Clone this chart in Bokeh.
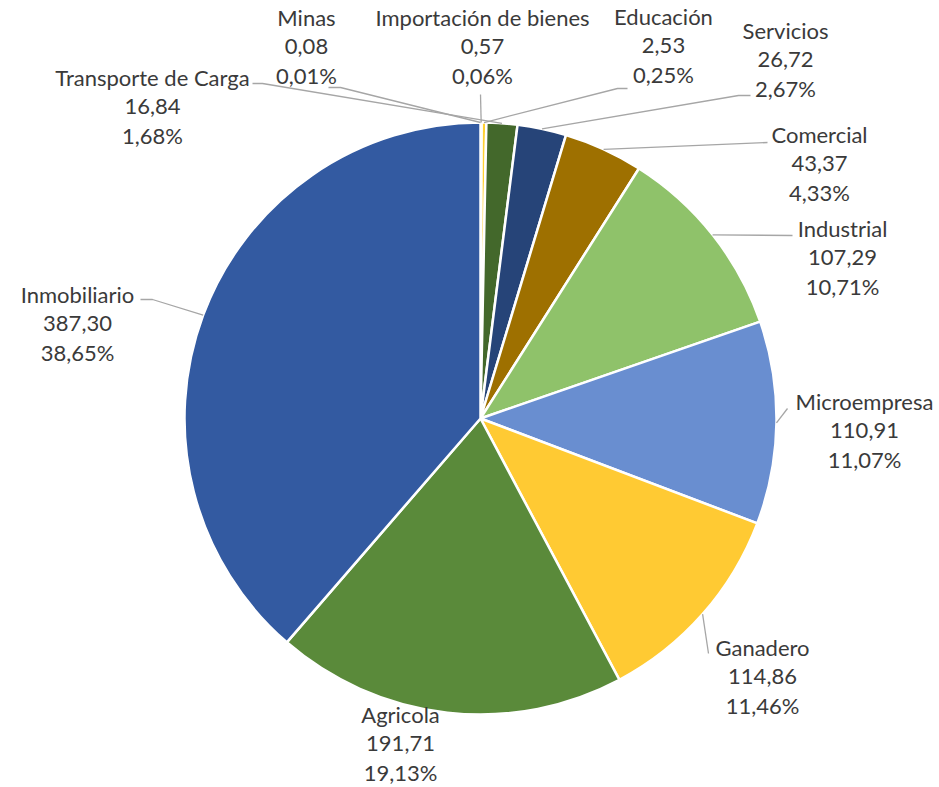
import numpy as np
from bokeh.plotting import figure
from bokeh.models import Range1d, ColumnDataSource
from bokeh.core.properties import value
from bokeh.embed import file_html
from bokeh.resources import INLINE

# ---- data ----
categories = ["Minas", "Importación de bienes", "Educación", "Transporte de Carga",
              "Servicios", "Comercial", "Industrial", "Microempresa", "Ganadero",
              "Agricola", "Inmobiliario"]
values = [0.08, 0.57, 2.53, 16.84, 26.72, 43.37, 107.29, 110.91, 114.86, 191.71, 387.30]

# ---- styles / layout ----
colors = ["#A9D18E", "#8FAADC", "#FFD133", "#43682B", "#264478", "#9E7000",
          "#8FC26A", "#698ED0", "#FFCA33", "#5A8A3A", "#335AA1"]

# label centre x and first-line y (image pixel coords)
label_pos = [(306, 17), (482, 17), (663, 16), (152, 77), (785, 30), (819, 134),
             (842, 228), (864, 401), (762, 647), (400, 714), (77, 294)]
# leader line points on label side (image coords), rim point is added from data
leader_pts = [[(328, 87), (340, 87)], [(480, 94)], [(627, 88), (617, 88)],
              [(252, 83), (262, 83)], [(750, 95), (738, 95)], [(767, 142)],
              [(792, 235)], [(787, 408)], [(708, 653)], [], [(140, 299), (152, 299)]]

IMG_W, IMG_H = 939, 787
def Y(y):
    return IMG_H - y

cx, cy, R = 480, Y(418), 296
font = value("Lato")
fs = "22px"
line_gap = 29

total = sum(values)
frac = np.array(values) / total
cum = np.concatenate([[0], np.cumsum(frac)])
start = np.pi / 2 - 2 * np.pi * cum[:-1]
end = np.pi / 2 - 2 * np.pi * cum[1:]
mid = (start + end) / 2

p = figure(width=IMG_W, height=IMG_H, x_range=Range1d(0, IMG_W), y_range=Range1d(0, IMG_H),
           output_backend="svg", toolbar_location=None, min_border=0,
           x_axis_type=None, y_axis_type=None)
p.grid.visible = False
p.outline_line_color = None

src = ColumnDataSource(dict(start=start, end=end, color=colors))
p.wedge(x=cx, y=cy, radius=R, start_angle="start", end_angle="end", direction="clock",
        fill_color="color", line_color="white", line_width=2.5, source=src)

# leader lines
xs, ys = [], []
for i, pts in enumerate(leader_pts):
    if not pts:
        continue
    rx = cx + R * np.cos(mid[i])
    ry = cy + R * np.sin(mid[i])
    xs.append([pt[0] for pt in pts] + [rx])
    ys.append([Y(pt[1]) for pt in pts] + [ry])
p.multi_line(xs, ys, line_color="#A6A6A6", line_width=1.3)

# labels
tx, ty, tt = [], [], []
for i, c in enumerate(categories):
    lx, ly = label_pos[i]
    v = f"{values[i]:.2f}".replace(".", ",")
    pc = f"{100 * values[i] / total:.2f}%".replace(".", ",")
    for k, s in enumerate([c, v, pc]):
        tx.append(lx)
        ty.append(Y(ly + k * line_gap))
        tt.append(s)
p.text(x=tx, y=ty, text=tt, text_font=font, text_font_size=fs, text_color="#3A3A3A",
       text_align="center", text_baseline="middle")

open("out.html", "w").write(file_html(p, INLINE))
